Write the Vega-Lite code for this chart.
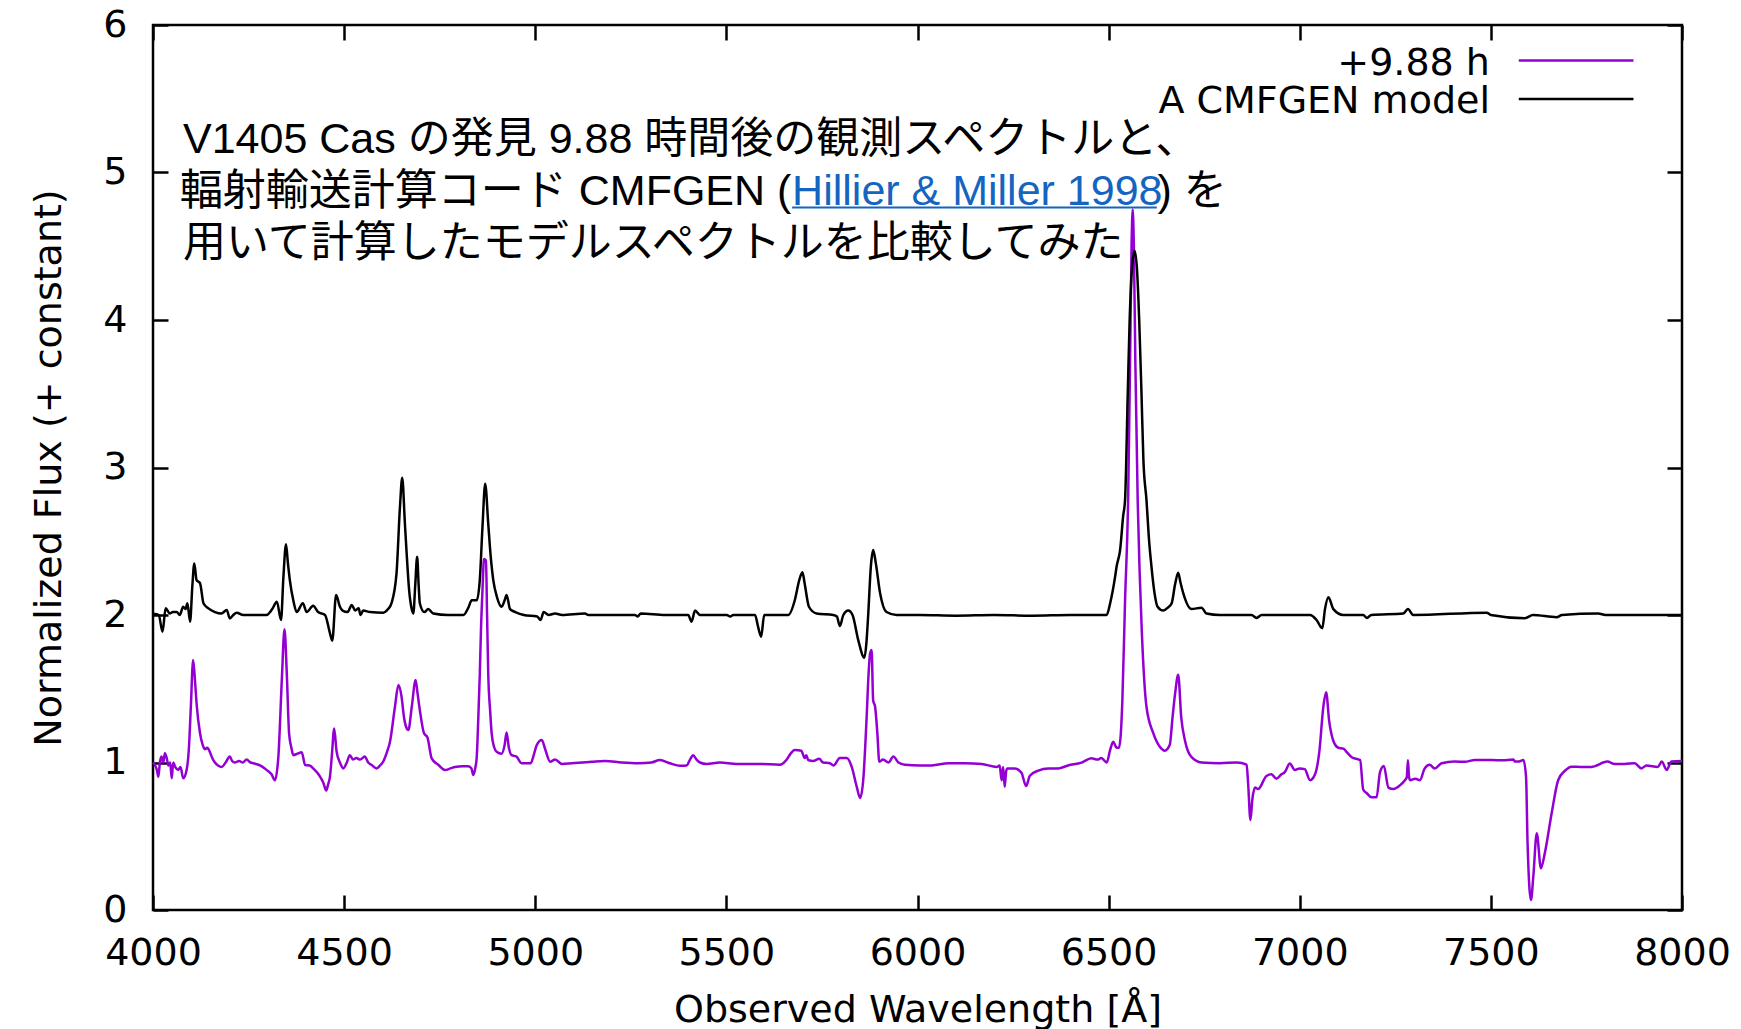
{
 "$schema": "https://vega.github.io/schema/vega-lite/v6.json",
 "width": 1529, "height": 885,
 "autosize": {"type": "none"},
 "padding": {"left": 153, "top": 25, "right": 59, "bottom": 119},
 "background": "white",
 "config": {
  "view": {"stroke": "black", "strokeWidth": 2.5},
  "axis": {"grid": false, "domain": false, "tickColor": "black", "tickWidth": 2.5, "tickSize": -15,
   "labelColor": "black", "labelFont": "DejaVu Sans", "labelFontSize": 38,
   "titleFont": "DejaVu Sans", "titleFontSize": 38, "titleFontWeight": "normal", "titleColor": "black",
   "labelFlush": false, "labelOverlap": false}
 },
 "datasets": {
  "model": [
   {"w":4000,"f":2.0},{"w":4005,"f":2.007},{"w":4015,"f":2.0},{"w":4025,"f":1.887},{"w":4033,"f":2.045},{"w":4044,"f":2.01},{"w":4052,"f":2.02},{"w":4062,"f":2.02},{"w":4070,"f":2.0},{"w":4079,"f":2.056},{"w":4085,"f":2.04},{"w":4090,"f":2.08},{"w":4097,"f":1.955},{"w":4103,"f":2.2},{"w":4108,"f":2.35},{"w":4114,"f":2.237},{"w":4123,"f":2.216},{"w":4132,"f":2.08},{"w":4145,"f":2.045},{"w":4162,"f":2.02},{"w":4179,"f":2.01},{"w":4193,"f":2.034},{"w":4201,"f":1.977},{"w":4210,"f":2.0},{"w":4219,"f":2.016},{"w":4236,"f":2.0},{"w":4297,"f":2.0},{"w":4312,"f":2.04},{"w":4324,"f":2.09},{"w":4335,"f":1.966},{"w":4341,"f":2.25},{"w":4348,"f":2.48},{"w":4353,"f":2.35},{"w":4358,"f":2.237},{"w":4367,"f":2.1},{"w":4376,"f":2.02},{"w":4392,"f":2.08},{"w":4402,"f":2.02},{"w":4419,"f":2.063},{"w":4432,"f":2.02},{"w":4450,"f":2.0},{"w":4463,"f":1.876},{"w":4469,"f":1.826},{"w":4479,"f":2.136},{"w":4489,"f":2.056},{"w":4496,"f":2.03},{"w":4509,"f":2.02},{"w":4520,"f":2.068},{"w":4529,"f":2.03},{"w":4538,"f":2.045},{"w":4543,"f":2.0},{"w":4550,"f":2.03},{"w":4568,"f":2.02},{"w":4602,"f":2.016},{"w":4615,"f":2.04},{"w":4624,"f":2.08},{"w":4637,"f":2.28},{"w":4646,"f":2.73},{"w":4652,"f":2.93},{"w":4659,"f":2.62},{"w":4664,"f":2.4},{"w":4670,"f":2.17},{"w":4676,"f":2.05},{"w":4681,"f":2.01},{"w":4686,"f":2.2},{"w":4691,"f":2.395},{"w":4695,"f":2.2},{"w":4698,"f":2.08},{"w":4710,"f":2.02},{"w":4720,"f":2.04},{"w":4733,"f":2.01},{"w":4772,"f":2.0},{"w":4812,"f":2.0},{"w":4825,"f":2.05},{"w":4834,"f":2.1},{"w":4847,"f":2.1},{"w":4855,"f":2.24},{"w":4862,"f":2.6},{"w":4869,"f":2.89},{"w":4877,"f":2.62},{"w":4884,"f":2.38},{"w":4890,"f":2.24},{"w":4900,"f":2.12},{"w":4912,"f":2.056},{"w":4920,"f":2.1},{"w":4925,"f":2.136},{"w":4934,"f":2.04},{"w":4948,"f":2.02},{"w":4970,"f":2.0},{"w":5005,"f":1.99},{"w":5014,"f":1.966},{"w":5022,"f":2.02},{"w":5035,"f":2.0},{"w":5052,"f":2.01},{"w":5070,"f":2.0},{"w":5130,"f":2.01},{"w":5139,"f":2.0},{"w":5261,"f":2.0},{"w":5268,"f":1.99},{"w":5276,"f":2.01},{"w":5340,"f":2.0},{"w":5400,"f":2.0},{"w":5409,"f":1.955},{"w":5418,"f":2.03},{"w":5431,"f":2.0},{"w":5501,"f":2.0},{"w":5510,"f":1.99},{"w":5518,"f":2.0},{"w":5575,"f":2.0},{"w":5583,"f":1.92},{"w":5591,"f":1.853},{"w":5599,"f":2.0},{"w":5606,"f":2.0},{"w":5662,"f":2.0},{"w":5679,"f":2.1},{"w":5691,"f":2.24},{"w":5699,"f":2.29},{"w":5705,"f":2.21},{"w":5716,"f":2.056},{"w":5736,"f":2.01},{"w":5780,"f":2.0},{"w":5789,"f":1.99},{"w":5797,"f":1.925},{"w":5806,"f":2.0},{"w":5819,"f":2.03},{"w":5830,"f":2.0},{"w":5845,"f":1.83},{"w":5861,"f":1.71},{"w":5866,"f":1.8},{"w":5871,"f":2.0},{"w":5878,"f":2.33},{"w":5884,"f":2.44},{"w":5891,"f":2.35},{"w":5902,"f":2.15},{"w":5919,"f":2.02},{"w":5945,"f":2.0},{"w":6006,"f":2.0},{"w":6100,"f":1.995},{"w":6200,"f":2.0},{"w":6300,"f":1.995},{"w":6400,"f":2.0},{"w":6495,"f":2.0},{"w":6504,"f":2.08},{"w":6517,"f":2.26},{"w":6521,"f":2.33},{"w":6530,"f":2.44},{"w":6538,"f":2.67},{"w":6543,"f":2.78},{"w":6550,"f":3.5},{"w":6555,"f":4.0},{"w":6562,"f":4.38},{"w":6568,"f":4.47},{"w":6574,"f":4.35},{"w":6580,"f":4.0},{"w":6586,"f":3.5},{"w":6591,"f":3.05},{"w":6599,"f":2.78},{"w":6606,"f":2.5},{"w":6612,"f":2.33},{"w":6620,"f":2.15},{"w":6628,"f":2.056},{"w":6643,"f":2.03},{"w":6655,"f":2.05},{"w":6665,"f":2.08},{"w":6674,"f":2.21},{"w":6682,"f":2.286},{"w":6688,"f":2.22},{"w":6695,"f":2.15},{"w":6717,"f":2.04},{"w":6743,"f":2.05},{"w":6756,"f":2.01},{"w":6791,"f":2.0},{"w":6874,"f":2.0},{"w":6887,"f":1.98},{"w":6900,"f":2.0},{"w":7027,"f":2.0},{"w":7044,"f":1.966},{"w":7059,"f":1.91},{"w":7066,"f":2.04},{"w":7075,"f":2.12},{"w":7088,"f":2.04},{"w":7114,"f":2.0},{"w":7166,"f":2.0},{"w":7176,"f":1.98},{"w":7187,"f":2.0},{"w":7271,"f":2.01},{"w":7283,"f":2.04},{"w":7297,"f":2.0},{"w":7489,"f":2.016},{"w":7500,"f":2.0},{"w":7589,"f":1.978},{"w":7610,"f":2.0},{"w":7672,"f":1.985},{"w":7686,"f":2.0},{"w":7781,"f":2.01},{"w":7800,"f":2.0},{"w":8000,"f":2.0}
  ],
  "obs": [
   {"w":4000,"f":1.0},{"w":4005,"f":0.983},{"w":4010,"f":0.95},{"w":4014,"f":0.904},{"w":4018,"f":1.0},{"w":4022,"f":1.04},{"w":4027,"f":1.0},{"w":4031,"f":1.062},{"w":4036,"f":1.03},{"w":4040,"f":0.98},{"w":4045,"f":1.0},{"w":4049,"f":0.893},{"w":4053,"f":1.0},{"w":4058,"f":0.97},{"w":4066,"f":0.95},{"w":4072,"f":0.97},{"w":4079,"f":0.893},{"w":4088,"f":0.95},{"w":4094,"f":1.1},{"w":4099,"f":1.378},{"w":4105,"f":1.695},{"w":4110,"f":1.55},{"w":4114,"f":1.4},{"w":4123,"f":1.198},{"w":4130,"f":1.12},{"w":4136,"f":1.09},{"w":4142,"f":1.1},{"w":4149,"f":1.07},{"w":4155,"f":1.03},{"w":4162,"f":1.0},{"w":4170,"f":0.98},{"w":4180,"f":0.97},{"w":4190,"f":1.0},{"w":4201,"f":1.04},{"w":4207,"f":1.01},{"w":4214,"f":1.0},{"w":4225,"f":1.01},{"w":4235,"f":1.0},{"w":4245,"f":1.02},{"w":4255,"f":1.0},{"w":4263,"f":0.995},{"w":4280,"f":0.98},{"w":4297,"f":0.95},{"w":4310,"f":0.92},{"w":4319,"f":0.88},{"w":4328,"f":1.04},{"w":4337,"f":1.56},{"w":4344,"f":1.903},{"w":4350,"f":1.605},{"w":4356,"f":1.198},{"w":4362,"f":1.1},{"w":4367,"f":1.05},{"w":4378,"f":1.06},{"w":4389,"f":1.07},{"w":4398,"f":0.983},{"w":4410,"f":0.98},{"w":4419,"f":0.96},{"w":4430,"f":0.93},{"w":4437,"f":0.904},{"w":4446,"f":0.86},{"w":4453,"f":0.81},{"w":4458,"f":0.85},{"w":4463,"f":0.904},{"w":4468,"f":1.05},{"w":4474,"f":1.23},{"w":4480,"f":1.08},{"w":4489,"f":1.0},{"w":4498,"f":0.96},{"w":4507,"f":1.0},{"w":4515,"f":1.05},{"w":4523,"f":1.02},{"w":4532,"f":1.03},{"w":4542,"f":1.02},{"w":4554,"f":1.04},{"w":4563,"f":1.0},{"w":4572,"f":0.983},{"w":4585,"f":0.96},{"w":4594,"f":0.98},{"w":4602,"f":1.005},{"w":4612,"f":1.07},{"w":4620,"f":1.141},{"w":4633,"f":1.378},{"w":4642,"f":1.525},{"w":4650,"f":1.45},{"w":4657,"f":1.3},{"w":4664,"f":1.23},{"w":4668,"f":1.22},{"w":4677,"f":1.378},{"w":4687,"f":1.56},{"w":4692,"f":1.47},{"w":4698,"f":1.356},{"w":4709,"f":1.198},{"w":4718,"f":1.17},{"w":4729,"f":1.028},{"w":4747,"f":0.983},{"w":4764,"f":0.949},{"w":4778,"f":0.96},{"w":4790,"f":0.97},{"w":4810,"f":0.975},{"w":4825,"f":0.975},{"w":4833,"f":0.96},{"w":4838,"f":0.915},{"w":4843,"f":0.96},{"w":4847,"f":1.04},{"w":4851,"f":1.3},{"w":4855,"f":1.605},{"w":4858,"f":1.9},{"w":4862,"f":2.17},{"w":4866,"f":2.38},{"w":4871,"f":2.37},{"w":4874,"f":2.0},{"w":4877,"f":1.605},{"w":4882,"f":1.35},{"w":4886,"f":1.198},{"w":4893,"f":1.1},{"w":4899,"f":1.073},{"w":4912,"f":1.06},{"w":4920,"f":1.12},{"w":4925,"f":1.204},{"w":4931,"f":1.1},{"w":4938,"f":1.05},{"w":4951,"f":1.04},{"w":4964,"f":0.995},{"w":4988,"f":0.995},{"w":4996,"f":1.05},{"w":5004,"f":1.119},{"w":5017,"f":1.153},{"w":5026,"f":1.09},{"w":5039,"f":1.005},{"w":5052,"f":1.02},{"w":5070,"f":0.99},{"w":5096,"f":0.995},{"w":5148,"f":1.005},{"w":5183,"f":1.01},{"w":5226,"f":1.0},{"w":5270,"f":0.995},{"w":5304,"f":1.0},{"w":5326,"f":1.017},{"w":5352,"f":0.995},{"w":5379,"f":0.978},{"w":5396,"f":0.98},{"w":5405,"f":1.02},{"w":5413,"f":1.05},{"w":5422,"f":1.02},{"w":5431,"f":1.0},{"w":5448,"f":0.99},{"w":5483,"f":1.0},{"w":5527,"f":0.99},{"w":5588,"f":0.99},{"w":5640,"f":0.985},{"w":5657,"f":1.017},{"w":5668,"f":1.06},{"w":5679,"f":1.085},{"w":5696,"f":1.08},{"w":5705,"f":1.03},{"w":5709,"f":1.05},{"w":5714,"f":1.017},{"w":5727,"f":1.01},{"w":5743,"f":1.025},{"w":5753,"f":1.0},{"w":5771,"f":0.995},{"w":5780,"f":0.98},{"w":5797,"f":1.03},{"w":5815,"f":1.03},{"w":5828,"f":0.97},{"w":5841,"f":0.836},{"w":5850,"f":0.76},{"w":5858,"f":0.88},{"w":5867,"f":1.31},{"w":5872,"f":1.6},{"w":5876,"f":1.74},{"w":5880,"f":1.763},{"w":5884,"f":1.42},{"w":5889,"f":1.38},{"w":5895,"f":1.198},{"w":5900,"f":1.005},{"w":5910,"f":1.02},{"w":5924,"f":1.0},{"w":5937,"f":1.04},{"w":5950,"f":1.0},{"w":5967,"f":0.985},{"w":6006,"f":0.98},{"w":6037,"f":0.98},{"w":6081,"f":0.995},{"w":6124,"f":0.995},{"w":6168,"f":0.99},{"w":6207,"f":0.97},{"w":6215,"f":0.98},{"w":6220,"f":0.88},{"w":6224,"f":0.97},{"w":6228,"f":0.836},{"w":6232,"f":0.94},{"w":6235,"f":0.96},{"w":6254,"f":0.96},{"w":6272,"f":0.93},{"w":6284,"f":0.84},{"w":6294,"f":0.91},{"w":6316,"f":0.945},{"w":6342,"f":0.96},{"w":6368,"f":0.96},{"w":6394,"f":0.98},{"w":6429,"f":0.999},{"w":6455,"f":1.028},{"w":6471,"f":1.02},{"w":6481,"f":1.03},{"w":6495,"f":1.0},{"w":6504,"f":1.085},{"w":6512,"f":1.141},{"w":6521,"f":1.1},{"w":6527,"f":1.1},{"w":6532,"f":1.2},{"w":6536,"f":1.424},{"w":6543,"f":2.1},{"w":6551,"f":2.78},{"w":6556,"f":3.7},{"w":6560,"f":4.5},{"w":6563,"f":4.75},{"w":6566,"f":4.5},{"w":6570,"f":3.7},{"w":6576,"f":2.78},{"w":6581,"f":2.3},{"w":6587,"f":1.876},{"w":6599,"f":1.378},{"w":6617,"f":1.198},{"w":6634,"f":1.107},{"w":6647,"f":1.08},{"w":6660,"f":1.12},{"w":6667,"f":1.3},{"w":6674,"f":1.469},{"w":6682,"f":1.595},{"w":6690,"f":1.305},{"w":6700,"f":1.146},{"w":6717,"f":1.036},{"w":6743,"f":1.0},{"w":6791,"f":0.995},{"w":6835,"f":1.0},{"w":6861,"f":0.985},{"w":6865,"f":0.856},{"w":6871,"f":0.61},{"w":6876,"f":0.75},{"w":6883,"f":0.83},{"w":6891,"f":0.82},{"w":6913,"f":0.909},{"w":6926,"f":0.92},{"w":6939,"f":0.89},{"w":6952,"f":0.92},{"w":6961,"f":0.935},{"w":6974,"f":0.994},{"w":6987,"f":0.95},{"w":7000,"f":0.96},{"w":7013,"f":0.955},{"w":7027,"f":0.88},{"w":7040,"f":0.92},{"w":7051,"f":1.068},{"w":7062,"f":1.384},{"w":7069,"f":1.477},{"w":7077,"f":1.28},{"w":7088,"f":1.146},{"w":7101,"f":1.1},{"w":7114,"f":1.094},{"w":7123,"f":1.07},{"w":7136,"f":1.036},{"w":7158,"f":1.016},{"w":7166,"f":0.817},{"w":7176,"f":0.79},{"w":7188,"f":0.764},{"w":7201,"f":0.764},{"w":7210,"f":0.935},{"w":7220,"f":0.976},{"w":7232,"f":0.83},{"w":7245,"f":0.82},{"w":7262,"f":0.845},{"w":7275,"f":0.88},{"w":7280,"f":0.9},{"w":7283,"f":1.015},{"w":7286,"f":0.9},{"w":7289,"f":0.88},{"w":7302,"f":0.89},{"w":7314,"f":0.88},{"w":7327,"f":0.96},{"w":7340,"f":0.984},{"w":7353,"f":0.96},{"w":7371,"f":0.995},{"w":7406,"f":1.006},{"w":7432,"f":1.005},{"w":7458,"f":1.017},{"w":7502,"f":1.017},{"w":7530,"f":1.015},{"w":7559,"f":1.02},{"w":7563,"f":1.006},{"w":7572,"f":1.006},{"w":7585,"f":1.017},{"w":7592,"f":0.904},{"w":7596,"f":0.452},{"w":7605,"f":0.068},{"w":7611,"f":0.226},{"w":7620,"f":0.52},{"w":7631,"f":0.283},{"w":7641,"f":0.384},{"w":7659,"f":0.656},{"w":7676,"f":0.88},{"w":7694,"f":0.944},{"w":7711,"f":0.972},{"w":7736,"f":0.97},{"w":7762,"f":0.97},{"w":7805,"f":1.006},{"w":7824,"f":0.99},{"w":7850,"f":0.99},{"w":7876,"f":0.995},{"w":7894,"f":0.96},{"w":7907,"f":0.98},{"w":7937,"f":0.97},{"w":7947,"f":1.006},{"w":7960,"f":0.95},{"w":7972,"f":1.006},{"w":7998,"f":1.01},{"w":8000,"f":1.01}
  ]
 },
 "layer": [
  {
   "data": {"name": "obs"},
   "mark": {"type": "line", "color": "#9400d3", "strokeWidth": 2.5, "strokeJoin": "round", "interpolate": "monotone"},
   "encoding": {
    "x": {"field": "w", "type": "quantitative", "scale": {"domain": [4000, 8000], "nice": false, "zero": false},
     "axis": {"orient": "bottom", "values": [4000,4500,5000,5500,6000,6500,7000,7500,8000], "format": "d", "labelPadding": 39,
      "title": "Observed Wavelength [Å]", "titleX": 764.5, "titleY": 111, "titleBaseline": "alphabetic", "titleAlign": "center", "titleAnchor": null}},
    "y": {"field": "f", "type": "quantitative", "scale": {"domain": [0, 6], "nice": false, "zero": false},
     "axis": {"orient": "left", "values": [0,1,2,3,4,5,6], "format": "d", "labelPadding": 41,
      "title": "Normalized Flux (+ constant)", "titleX": -93, "titleY": 442.5, "titleAngle": 270, "titleBaseline": "alphabetic", "titleAlign": "center", "titleAnchor": null}}
   }
  },
  {
   "data": {"name": "model"},
   "mark": {"type": "line", "color": "black", "strokeWidth": 2.5, "strokeJoin": "round", "interpolate": "monotone"},
   "encoding": {
    "x": {"field": "w", "type": "quantitative", "axis": null},
    "y": {"field": "f", "type": "quantitative", "axis": null}
   }
  },
  {
   "data": {"values": [{}]},
   "mark": {"type": "text", "align": "left", "baseline": "alphabetic", "font": "Liberation Sans, Noto Sans CJK JP", "fontSize": 43, "color": "black"},
   "encoding": {
    "x": {"datum": 4078.5, "type": "quantitative", "axis": {"orient": "top", "values": [4000,4500,5000,5500,6000,6500,7000,7500,8000], "labels": false, "title": null}},
    "y": {"datum": 5.132, "type": "quantitative", "axis": {"orient": "right", "values": [0,1,2,3,4,5,6], "labels": false, "title": null}},
    "text": {"value": "V1405 Cas の発見 9.88 時間後の観測スペクトルと、"}
   }
  },
  {
   "data": {"values": [{}]},
   "mark": {"type": "text", "align": "right", "baseline": "alphabetic", "font": "Liberation Sans, Noto Sans CJK JP", "fontSize": 43, "color": "black"},
   "encoding": {
    "x": {"datum": 5670, "type": "quantitative", "axis": null},
    "y": {"datum": 4.78, "type": "quantitative", "axis": null},
    "text": {"value": "輻射輸送計算コード CMFGEN ("}
   }
  },
  {
   "data": {"values": [{}]},
   "mark": {"type": "text", "align": "left", "baseline": "alphabetic", "font": "Liberation Sans, Noto Sans CJK JP", "fontSize": 43, "color": "#1565c0"},
   "encoding": {
    "x": {"datum": 5672, "type": "quantitative", "axis": null},
    "y": {"datum": 4.78, "type": "quantitative", "axis": null},
    "text": {"value": "Hillier & Miller 1998"}
   }
  },
  {
   "data": {"values": [{}]},
   "mark": {"type": "rule", "color": "#1565c0", "strokeWidth": 2},
   "encoding": {
    "x": {"datum": 5672, "type": "quantitative", "axis": null},
    "x2": {"datum": 6626},
    "y": {"datum": 4.762, "type": "quantitative", "axis": null}
   }
  },
  {
   "data": {"values": [{}]},
   "mark": {"type": "text", "align": "left", "baseline": "alphabetic", "font": "Liberation Sans, Noto Sans CJK JP", "fontSize": 43, "color": "black"},
   "encoding": {
    "x": {"datum": 6628, "type": "quantitative", "axis": null},
    "y": {"datum": 4.78, "type": "quantitative", "axis": null},
    "text": {"value": ") を"}
   }
  },
  {
   "data": {"values": [{}]},
   "mark": {"type": "text", "align": "left", "baseline": "alphabetic", "font": "Liberation Sans, Noto Sans CJK JP", "fontSize": 43, "color": "black"},
   "encoding": {
    "x": {"datum": 4078.5, "type": "quantitative", "axis": null},
    "y": {"datum": 4.427, "type": "quantitative", "axis": null},
    "text": {"value": "用いて計算したモデルスペクトルを比較してみた"}
   }
  },
  {
   "data": {"values": [{}]},
   "mark": {"type": "text", "align": "right", "baseline": "alphabetic", "font": "DejaVu Sans", "fontSize": 38, "color": "black"},
   "encoding": {
    "x": {"datum": 7497.6, "type": "quantitative", "axis": null},
    "y": {"datum": 5.661, "type": "quantitative", "axis": null},
    "text": {"value": "+9.88 h"}
   }
  },
  {
   "data": {"values": [{}]},
   "mark": {"type": "rule", "color": "#9400d3", "strokeWidth": 2.5},
   "encoding": {
    "x": {"datum": 7573, "type": "quantitative", "axis": null},
    "x2": {"datum": 7873},
    "y": {"datum": 5.76, "type": "quantitative", "axis": null}
   }
  },
  {
   "data": {"values": [{}]},
   "mark": {"type": "text", "align": "right", "baseline": "alphabetic", "font": "DejaVu Sans", "fontSize": 38, "color": "black"},
   "encoding": {
    "x": {"datum": 7497.6, "type": "quantitative", "axis": null},
    "y": {"datum": 5.401, "type": "quantitative", "axis": null},
    "text": {"value": "A CMFGEN model"}
   }
  },
  {
   "data": {"values": [{}]},
   "mark": {"type": "rule", "color": "black", "strokeWidth": 2.5},
   "encoding": {
    "x": {"datum": 7573, "type": "quantitative", "axis": null},
    "x2": {"datum": 7873},
    "y": {"datum": 5.498, "type": "quantitative", "axis": null}
   }
  }
 ],
 "resolve": {"axis": {"x": "independent", "y": "independent"}}
}
